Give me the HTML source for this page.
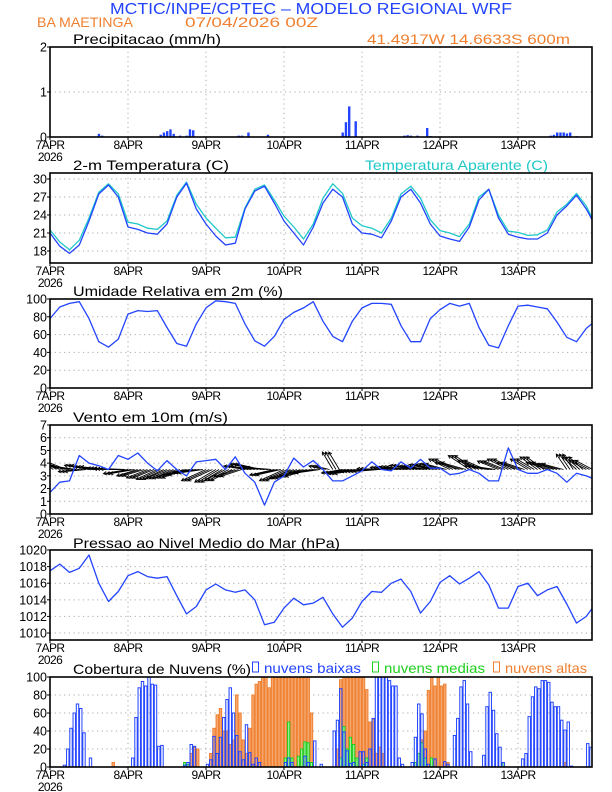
<!DOCTYPE html>
<html><head><meta charset="utf-8"><style>
html,body{margin:0;padding:0;background:#fff;}
svg{display:block;font-family:"Liberation Sans",sans-serif;}
</style></head><body>
<svg id="chart" width="612" height="792" viewBox="0 0 612 792" xmlns="http://www.w3.org/2000/svg">
<text x="110" y="14" textLength="402" lengthAdjust="spacingAndGlyphs" font-size="15.5" fill="#2244ff">MCTIC/INPE/CPTEC – MODELO REGIONAL WRF</text>
<text x="37" y="27" textLength="96" lengthAdjust="spacingAndGlyphs" font-size="14" fill="#f08030">BA MAETINGA</text>
<text x="185" y="27" textLength="133" lengthAdjust="spacingAndGlyphs" font-size="14" fill="#f08030">07/04/2026 00Z</text>
<text x="367" y="44" textLength="203" lengthAdjust="spacingAndGlyphs" font-size="14" fill="#f08030">41.4917W 14.6633S 600m</text>
<text x="73" y="44" textLength="148" lengthAdjust="spacingAndGlyphs" font-size="14" fill="#000">Precipitacao (mm/h)</text>
<text x="73" y="170" textLength="156" lengthAdjust="spacingAndGlyphs" font-size="14" fill="#000">2-m Temperatura (C)</text>
<text x="365" y="170" textLength="183" lengthAdjust="spacingAndGlyphs" font-size="14" fill="#20c8c8">Temperatura Aparente (C)</text>
<text x="73" y="296" textLength="210" lengthAdjust="spacingAndGlyphs" font-size="14" fill="#000">Umidade Relativa em 2m (%)</text>
<text x="73" y="422" textLength="155" lengthAdjust="spacingAndGlyphs" font-size="14" fill="#000">Vento em 10m (m/s)</text>
<text x="73" y="548" textLength="267" lengthAdjust="spacingAndGlyphs" font-size="14" fill="#000">Pressao ao Nivel Medio do Mar (hPa)</text>
<text x="73" y="674" textLength="178" lengthAdjust="spacingAndGlyphs" font-size="14" fill="#000">Cobertura de Nuvens (%)</text>
<rect x="252.5" y="662" width="6" height="10" fill="none" stroke="#2244ff"/>
<text x="264" y="673" textLength="97" lengthAdjust="spacingAndGlyphs" font-size="14" fill="#2244ff">nuvens baixas</text>
<rect x="372.5" y="662" width="6" height="10" fill="none" stroke="#20d020"/>
<text x="384" y="673" textLength="101" lengthAdjust="spacingAndGlyphs" font-size="14" fill="#20d020">nuvens medias</text>
<rect x="493.5" y="662" width="6" height="10" fill="none" stroke="#f08030"/>
<text x="505" y="673" textLength="82" lengthAdjust="spacingAndGlyphs" font-size="14" fill="#f08030">nuvens altas</text>
</svg>
<script>
const dayLabels = ["7APR","8APR","9APR","10APR","11APR","12APR","13APR"];
const precipHours = [15,16,34,35,36,37,38,40,42,43,44,58,59,61,67,90,91,92,94,109,110,111,113,116,117,154,155,156,157,158,159,160,162];
const precipValues = [0.07,0.03,0.05,0.1,0.13,0.17,0.07,0.03,0.03,0.17,0.15,0.03,0.03,0.1,0.05,0.1,0.33,0.68,0.35,0.03,0.04,0.03,0.03,0.2,0.02,0.03,0.05,0.1,0.1,0.1,0.08,0.1,0.02];
const tempValues = [21,18.8,17.6,19,23,27.5,29,27,22,21.6,21,20.8,22.5,27,29.3,25,22.5,20.5,19,19.3,25,28,28.8,26,23,21,19,22,26,28.3,27,22.5,21,20.8,20.2,23,27,28.3,26,22.5,20.5,20,19.6,22,26.5,28.3,23.5,20.8,20.3,20,20,21,24,25.5,27.3,25,22];
const apparentValues = [21.5,19.5,18.2,19.8,23.5,27.8,29.2,27.5,22.8,22.5,21.8,21.6,23,27.3,29.5,25.8,23.5,21.8,20.2,20.3,25.2,28.3,29,26.5,23.8,22,20,22.5,26.8,29.2,27.6,23.5,22.2,21.8,21,23.5,27.5,28.8,26.8,23.2,21.4,21,20.4,22.5,27,28.3,24,21.3,21.1,20.6,20.7,21.5,24.5,25.8,27.6,25.5,22.2];
const humidityValues = [78,91,95,97,78,52,46,55,83,87,86,87,68,50,47,72,90,98,97,95,72,53,47,58,77,85,90,97,75,58,52,75,90,95,95,94,70,52,52,78,88,95,92,95,68,48,45,70,92,93,91,89,74,57,52,67,76];
const windSpeed = [1.7,2.5,2.6,4.6,4.0,3.8,3.5,4.6,4.3,4.8,4.0,3.4,4.2,3.5,3.0,4.1,4.2,4.3,3.5,4.5,3.2,2.5,0.7,2.5,3.0,4.4,3.7,4.2,3.5,2.6,2.6,3.0,3.4,4.1,3.5,3.4,4.1,3.6,4.3,3.6,3.6,3.1,3.2,3.5,3.2,2.6,2.6,5.2,3.5,3.2,3.2,3.5,3.2,2.5,3.2,3.0,2.7];
const windU = [-2.5,-3,-3.5,-3,-3.5,-3.5,-3,-3.5,-3.5,-3,-3,-3,-3,-3,-3.5,-3.5,-3.5,-3,-3,-3,-3,-3.5,-3.5,-3.5,-3.5,-3.5,-3.5,-3.5,-2,-1.5,-3,-3.5,-3.5,-3.5,-3.5,-3,-3,-3,-3,-3,-3,-3,-3.5,-3,-3,-3.5,-3,-3,-3,-2.5,-2.5,-3,-3,-1.5,-2,-2.5];
const windV = [1.8,1.2,0.5,-0.3,0.6,0.4,0.2,0.1,-0.6,-0.9,-1.2,-1.4,-1.3,-1.2,-0.8,-0.5,-1.6,-1.8,-1.6,-1.0,0.5,0.8,0.3,-0.8,-1.6,-1.3,-1.0,-0.5,0.5,2.5,-0.5,-0.6,-0.3,-0.3,0.1,0.3,0.4,0.6,0.5,0.7,0.8,1.5,1.0,2.0,1.3,0.5,1.2,1.5,1.0,1.5,1.8,1.0,0.8,2.2,1.8,1.3];
const pressureValues = [1017.5,1018.3,1017.3,1017.8,1019.4,1016,1013.8,1015,1016.9,1017.4,1016.8,1016.6,1016.8,1014.5,1012.3,1013.2,1015.2,1015.9,1015.2,1014.9,1015.2,1014,1011,1011.3,1013,1014.2,1013.4,1013.6,1014.3,1012.3,1010.7,1011.8,1013.8,1015,1014.9,1016,1016.5,1015,1012.4,1013.8,1016.1,1016.9,1015.9,1016.6,1017.4,1015.8,1013,1013,1015.6,1016,1014.5,1015.2,1015.6,1013.5,1011.2,1012,1013.6];
const lowClouds = [0,0,0,0,2,20,43,60,70,65,38,0,10,0,0,0,0,0,0,0,0,0,0,0,
0,10,55,88,95,90,100,92,91,23,24,0,0,0,0,0,0,2,5,25,23,0,0,0,
3,8,34,15,33,55,75,88,60,35,17,8,47,16,3,10,5,0,0,0,0,0,0,0,
5,10,5,0,0,0,12,5,0,29,0,3,0,0,0,40,52,87,39,18,4,5,0,17,
17,5,20,54,100,100,100,100,96,90,90,10,3,0,0,5,33,70,59,20,3,0,9,0,
0,6,3,0,35,54,89,96,70,17,0,0,0,13,67,83,63,37,22,5,0,0,0,0,
0,9,15,56,78,89,87,96,96,94,72,67,67,52,41,50,1,0,0,0,0,26,22,13];
const midClouds = [0,0,0,0,0,0,0,0,0,0,0,0,0,0,0,0,0,0,0,0,0,0,0,0,
0,0,0,0,0,0,0,0,0,0,0,0,0,0,0,0,0,5,3,0,0,0,0,0,
0,0,0,0,0,0,0,0,0,0,0,0,0,0,0,0,0,0,0,0,0,0,0,0,
10,50,10,0,12,20,28,27,5,0,0,0,0,0,0,0,0,10,45,20,33,25,10,0,
3,10,0,0,0,0,0,0,0,0,0,0,0,0,0,0,5,15,27,10,0,10,0,0,
0,0,0,0,0,0,0,0,0,0,0,0,0,0,0,0,0,0,0,5,0,0,0,0,
0,0,0,0,0,0,0,0,0,0,0,0,0,0,0,0,0,0,0,0,0,0,0,0];
const highClouds = [0,0,0,0,0,0,0,0,0,0,0,0,0,0,0,0,0,0,0,5,0,0,0,0,
0,0,0,0,0,0,0,0,0,0,0,0,0,0,0,0,0,0,0,15,22,20,0,0,
0,15,43,58,65,40,40,25,30,80,60,30,15,43,80,92,95,100,100,88,100,100,100,100,
100,100,100,100,100,100,100,100,60,0,0,0,0,0,0,0,20,97,100,100,100,100,100,100,
100,86,50,53,15,22,15,0,0,0,0,0,0,0,0,0,0,0,30,40,85,100,90,100,
90,92,5,0,0,0,0,0,0,0,0,0,0,0,0,0,0,0,0,0,0,0,0,0,
0,0,0,0,0,0,0,0,0,0,0,0,0,0,5,0,0,0,0,0,0,0,0,0];

const NS = "http://www.w3.org/2000/svg";
const svg = document.getElementById("chart");
const X0 = 50, X1 = 592, DAY = 78;
function xh(h){ return X0 + h * DAY / 24; }
function mk(tag, attrs, parent){
  const e = document.createElementNS(NS, tag);
  for (const k in attrs) e.setAttribute(k, attrs[k]);
  (parent || svg).appendChild(e);
  return e;
}
let clipCount = 0;
function panel(name, top, bottom, vmin, vmax, ticks){
  const g = mk("g", {});
  
  
  const ys = v => bottom - (v - vmin) / (vmax - vmin) * (bottom - top);
  for (let d = 1; d < 7; d++){
    const gl = mk("line", {x1:xh(d*24), x2:xh(d*24), y1:top, y2:bottom, stroke:"#aaa", "stroke-dasharray":"1.2,3.5", "stroke-width":1}, g);
    
    
  }
  ticks.forEach(t => {
    const y = ys(t);
    if (y > top + 1 && y < bottom - 1){
      const gl = mk("line", {x1:X0, x2:X1, y1:y, y2:y, stroke:"#aaa", "stroke-dasharray":"1.2,3.5", "stroke-width":1}, g);
      
      
    }
    const tl = mk("text", {x:X0 - 3, y:y + 4.5, "text-anchor":"end", "font-size":12.5}, g);
    tl.textContent = t;
    
    
    const tk = mk("line", {x1:X0 - 3, x2:X0, y1:y, y2:y, stroke:"#000"}, g);
    
    
  });
  dayLabels.forEach((lab, i) => {
    const t = mk("text", {x:xh(i*24), y:bottom + 12, "text-anchor":"middle", "font-size":12, "letter-spacing":"-0.6"}, g);
    t.textContent = lab;
    
    
    const tk = mk("line", {x1:xh(i*24), x2:xh(i*24), y1:bottom, y2:bottom + 3, stroke:"#000"}, g);
    
    
  });
  const yr = mk("text", {x:X0, y:bottom + 24, "text-anchor":"middle", "font-size":12, "letter-spacing":"-0.6"}, g);
  yr.textContent = "2026";
  
  
  const id = "clip" + (clipCount++);
  const cp = mk("clipPath", {id:id});
  mk("rect", {x:X0, y:top, width:X1 - X0, height:bottom - top}, cp);
  const plot = mk("g", {"clip-path":"url(#" + id + ")"}, g);
  
  
  const frame = mk("rect", {x:X0, y:top, width:X1 - X0, height:bottom - top, fill:"none", stroke:"#000", "stroke-width":1.6}, g);
  
  
  return {ys, plot};
}
function line(p, vals, step, color, name){
  const d = vals.map((v, i) => (i ? "L" : "M") + xh(i*step).toFixed(1) + "," + p.ys(v).toFixed(1)).join("");
  const pl = mk("path", {d:d, fill:"none", stroke:color, "stroke-width":1.3, "stroke-linejoin":"round"}, p.plot);
  
  
}

const P1 = panel("precip", 47, 137, 0, 2, [0,1,2]);
precipHours.forEach((h, i) => {
  const y = P1.ys(precipValues[i]);
  const b = mk("rect", {x:xh(h) - 1, y:y, width:2.4, height:137 - y, fill:"#2244ff"}, P1.plot);
  
  
});

const P2 = panel("temperature", 173, 263, 16, 31, [18,21,24,27,30]);
line(P2, apparentValues, 3, "#20c8c8", "apparent-temperature-line");
line(P2, tempValues, 3, "#2244ff", "temperature-line");

const P3 = panel("humidity", 299, 388, 0, 100, [0,20,40,60,80,100]);
line(P3, humidityValues, 3, "#2244ff", "humidity-line");

const P4 = panel("wind", 425, 514, 0, 7, [0,1,2,3,4,5,6,7]);
const baseY = P4.ys(3.5);
for (let h = 0; h < 168; h++){
  const i = Math.min(Math.floor(h / 3), windU.length - 1);
  const x0 = xh(h), x1 = x0 + windU[i] * 7, y1 = baseY - windV[i] * 7;
  const ang = Math.atan2(y1 - baseY, x1 - x0);
  const hl = 3.5;
  const d = "M" + x0.toFixed(1) + "," + baseY.toFixed(1) + "L" + x1.toFixed(1) + "," + y1.toFixed(1) +
    "M" + (x1 - hl*Math.cos(ang - 0.5)).toFixed(1) + "," + (y1 - hl*Math.sin(ang - 0.5)).toFixed(1) + "L" + x1.toFixed(1) + "," + y1.toFixed(1) +
    "L" + (x1 - hl*Math.cos(ang + 0.5)).toFixed(1) + "," + (y1 - hl*Math.sin(ang + 0.5)).toFixed(1);
  const a = mk("path", {d:d, fill:"none", stroke:"#000", "stroke-width":0.9}, P4.plot);
  
  
}
line(P4, windSpeed, 3, "#2244ff", "wind-speed-line");

const P5 = panel("pressure", 550, 640, 1009.16, 1020, [1010,1012,1014,1016,1018,1020]);
line(P5, pressureValues, 3, "#2244ff", "pressure-line");

const P6 = panel("clouds", 677, 767, 0, 100, [0,20,40,60,80,100]);
function bars(vals, fill, stroke, name, w){
  vals.forEach((v, h) => {
    const y = P6.ys(v);
    const b = mk("rect", {x:xh(h) + 0.3, y:y, width:w, height:Math.max(767 - y, 0.5), fill:fill, stroke:stroke, "stroke-width":1}, P6.plot);
    
    
  });
}
bars(highClouds, "#f4a870", "#f08030", "high-cloud-bar", 2.4);
bars(midClouds, "#a0f0a0", "#20d020", "mid-cloud-bar", 2.2);
bars(lowClouds, "none", "#2244ff", "low-cloud-bar", 2.4);
</script>
</body></html>
